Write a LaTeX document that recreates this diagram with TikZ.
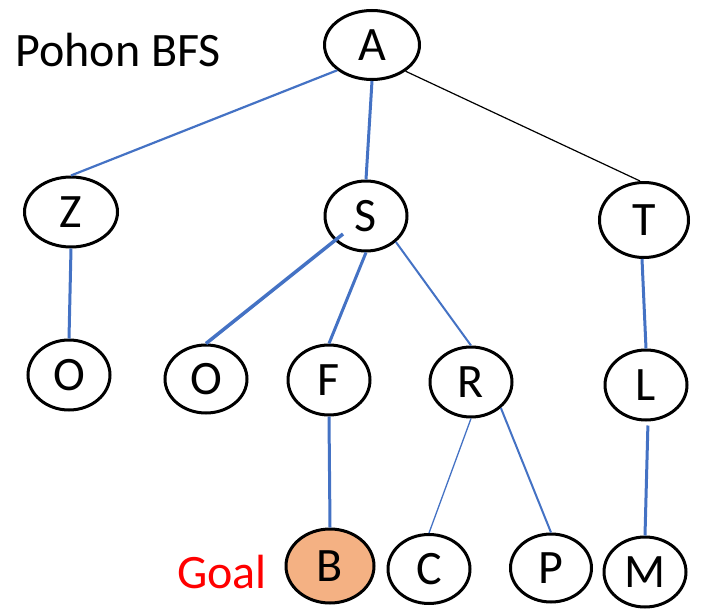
\documentclass[tikz,border=0pt]{standalone}
\usepackage{fontspec}
\setmainfont{Carlito}
\usetikzlibrary{shapes.geometric,calc}
\definecolor{edgeblue}{HTML}{4472C4}
\definecolor{goalfill}{HTML}{F4B183}
\definecolor{goalred}{HTML}{FF0000}
\begin{document}
\begin{tikzpicture}[x=1pt,y=-1pt,
  st/.style={ellipse,draw=black,line width=3pt,inner sep=0pt,
    minimum width=82pt,minimum height=70pt,font=\fontsize{48}{52}\selectfont},
  be/.style={draw=edgeblue,line width=#1},
  ke/.style={draw=black,line width=#1},
  lbl/.style={font=\fontsize{48}{52}\selectfont,inner sep=0pt}]
\useasboundingbox (0,0) rectangle (701,610);
% title
\node[lbl] (title) at (118,50) {Pohon BFS};
% nodes
\node[st,minimum width=95pt,minimum height=69pt] (A) at (372,45) {A};
\node[st,minimum width=93pt] (Z) at (71,212) {Z};
\node[st] (S) at (366,216) {S};
\node[st,minimum width=89pt,minimum height=75pt] (T) at (644,220) {T};
\node[st] (O1) at (69,375) {O};
\node[st,minimum height=68pt] (O2) at (206,379) {O};
\node[st] (F) at (329,380) {F};
\node[st] (R) at (471,382) {R};
\node[st] (L) at (646,385) {L};
\node[st,fill=goalfill,minimum width=88pt,minimum height=74pt] (B) at (330,566) {B};
\node[st,minimum height=69pt] (C) at (429,569) {C};
\node[st,minimum width=81pt,minimum height=68pt] (P) at (551,568) {P};
\node[st] (M) at (645,572) {M};
\node[lbl,text=goalred] (goal) at (222,572) {Goal};
% edges
\draw[be=2.2pt] (A.216) -- (Z.north);
\draw[be=3pt] (A.south) -- (S.north);
\draw[ke=1.2pt] (A.-38) -- ([xshift=-4pt]T.north);
\draw[be=3pt] (Z.south) -- (O1.north);
\draw[be=3.5pt] ($(S.center)+(-23,18)$) -- (O2.north);
\draw[be=3pt] (S.south) -- (F.north);
\draw[be=2pt] (S.-41) -- (R.north);
\draw[be=3pt] (F.south) -- (B.north);
\draw[be=1.3pt] (R.south) -- (C.north);
\draw[be=2pt] (R.-41) -- (P.north);
\draw[be=3pt] ([xshift=-2pt]T.south) -- (L.north);
\draw[be=3pt,shorten <=4pt] ([xshift=2pt]L.south) -- (M.north);
\end{tikzpicture}
\end{document}
